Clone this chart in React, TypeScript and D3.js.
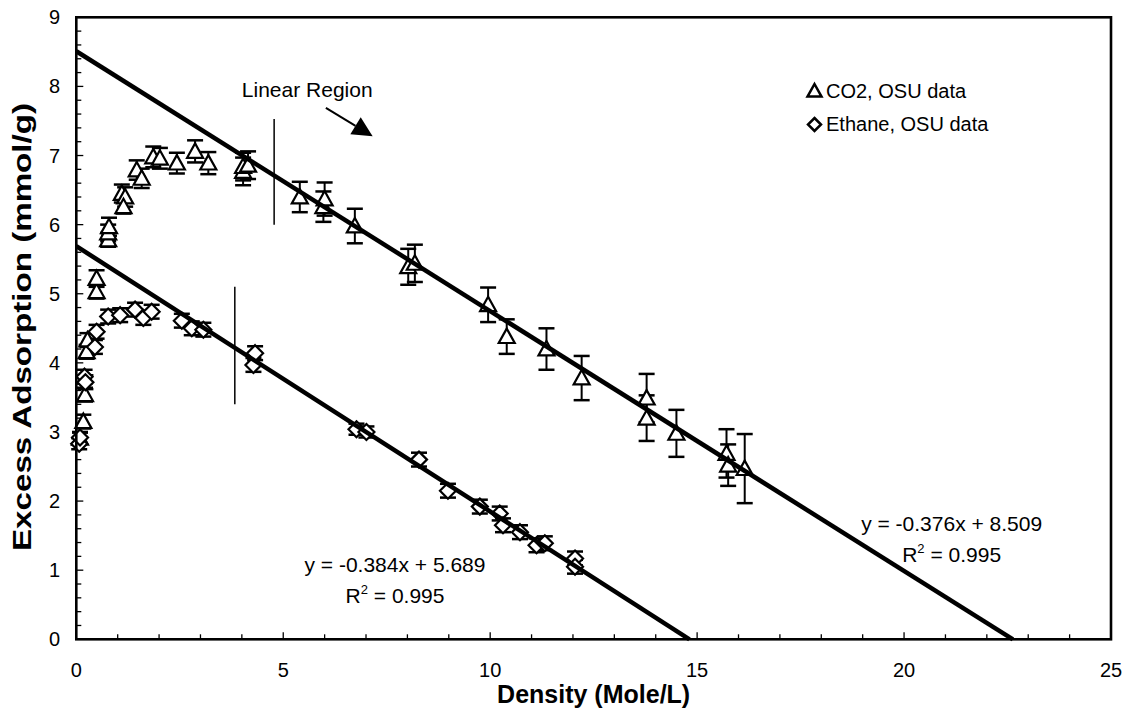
import React from "react";
import * as d3 from "d3";

// ---- data ----
const co2X = [0.09, 0.17, 0.21, 0.25, 0.27, 0.49, 0.49, 0.77, 0.77, 0.79, 1.10, 1.18, 1.14, 1.46, 1.58, 1.86, 2.02, 2.43, 2.87, 3.19, 4.03, 4.03, 4.15, 5.40, 5.97, 6.00, 6.73, 8.02, 8.18, 9.95, 10.40, 11.36, 12.21, 13.78, 13.78, 14.50, 15.71, 15.75, 16.15];
const co2Y = [2.91, 3.15, 3.54, 4.16, 4.33, 5.03, 5.22, 5.78, 5.88, 5.97, 6.45, 6.40, 6.26, 6.79, 6.67, 6.98, 6.96, 6.89, 7.06, 6.89, 6.77, 6.84, 6.86, 6.40, 6.26, 6.37, 5.98, 5.39, 5.44, 4.84, 4.38, 4.20, 3.78, 3.20, 3.49, 2.98, 2.69, 2.52, 2.47];
const co2Err = [0.08, 0.1, 0.1, 0.1, 0.1, 0.1, 0.12, 0.1, 0.12, 0.13, 0.13, 0.14, 0.1, 0.14, 0.14, 0.15, 0.15, 0.15, 0.16, 0.16, 0.2, 0.2, 0.2, 0.22, 0.22, 0.24, 0.25, 0.26, 0.27, 0.25, 0.25, 0.3, 0.32, 0.33, 0.35, 0.34, 0.35, 0.3, 0.5];

const ethX = [0.07, 0.09, 0.2, 0.22, 0.45, 0.49, 0.77, 1.06, 1.42, 1.62, 1.82, 2.55, 2.79, 3.07, 4.28, 4.32, 6.77, 7.01, 8.28, 8.98, 9.75, 10.23, 10.31, 10.72, 11.12, 11.32, 12.05, 12.05];
const ethY = [2.83, 2.92, 3.80, 3.72, 4.23, 4.45, 4.67, 4.69, 4.77, 4.65, 4.74, 4.61, 4.50, 4.48, 3.97, 4.14, 3.04, 3.00, 2.60, 2.15, 1.92, 1.82, 1.65, 1.55, 1.36, 1.39, 1.17, 1.05];
const ethErr = [0.08, 0.08, 0.1, 0.1, 0.1, 0.1, 0.1, 0.1, 0.1, 0.1, 0.1, 0.1, 0.1, 0.1, 0.1, 0.1, 0.08, 0.08, 0.1, 0.1, 0.1, 0.1, 0.1, 0.1, 0.1, 0.1, 0.1, 0.1];

const co2Fit = { slope: -0.376, intercept: 8.509 };
const ethFit = { slope: -0.384, intercept: 5.689 };

const xTicks = [0, 5, 10, 15, 20, 25];
const yTicks = [0, 1, 2, 3, 4, 5, 6, 7, 8, 9];

const legendLabels = ["CO2, OSU data", "Ethane, OSU data"];
const co2EqLines = ["y = -0.376x + 8.509", "0.995"];
const ethEqLines = ["y = -0.384x + 5.689", "0.995"];

// annotation anchors in data units
const co2Divider = { x: 4.78, y0: 6.0, y1: 7.53 };
const ethDivider = { x: 3.83, y0: 3.4, y1: 5.1 };
const linearLabel = { x: 4.0, y: 7.85, text: "Linear Region" };
const arrow = { x0: 6.03, y0: 7.69, x1: 7.16, y1: 7.28 };
const co2EqPos = { x: 21.15, y: 1.57, y2: 1.12 };
const ethEqPos = { x: 7.7, y: 0.98, y2: 0.53 };

const W = 1134, H = 711;
const left = 76.3, right = 1111, top = 17.3, bottom = 639.3;
const FONT = "'Liberation Sans', Arial, Helvetica, sans-serif";

function tri(cx: number, cy: number, s = 8) {
  return `M${cx},${cy - s}L${cx + s},${cy + s * 0.8}L${cx - s},${cy + s * 0.8}Z`;
}
function dia(cx: number, cy: number, s = 8) {
  return `M${cx},${cy - s}L${cx + s},${cy}L${cx},${cy + s}L${cx - s},${cy}Z`;
}

export default function App() {
  const x = d3.scaleLinear().domain([0, 25]).range([left, right]);
  const y = d3.scaleLinear().domain([0, 9]).range([bottom, top]);

  const xMinor = d3.range(0, 26, 1);
  const yMinor = d3.range(0, 9.01, 0.2);

  const fitLine = (f: { slope: number; intercept: number }) => {
    const xEnd = -f.intercept / f.slope;
    return d3.line<number>().x((d) => x(d)).y((d) => y(f.slope * d + f.intercept))([0, xEnd]) || "";
  };

  const errBars = (xs: number[], ys: number[], es: number[], key: string) =>
    xs.map((xv, i) => {
      const cx = x(xv);
      const yt = y(ys[i] + es[i]);
      const yb = y(ys[i] - es[i]);
      return (
        <g key={key + i} stroke="#000" strokeWidth={2}>
          <line x1={cx} x2={cx} y1={yt} y2={yb} />
          <line x1={cx - 8} x2={cx + 8} y1={yt} y2={yt} strokeWidth={2.5} />
          <line x1={cx - 8} x2={cx + 8} y1={yb} y2={yb} strokeWidth={2.5} />
        </g>
      );
    });

  const ang = Math.atan2(y(arrow.y1) - y(arrow.y0), x(arrow.x1) - x(arrow.x0));
  const ax1 = x(arrow.x1), ay1 = y(arrow.y1);
  const headLen = 20, headHalf = 10;
  const bx = ax1 - headLen * Math.cos(ang), by = ay1 - headLen * Math.sin(ang);
  const head = `M${ax1},${ay1}L${bx + headHalf * Math.sin(ang)},${by - headHalf * Math.cos(ang)}L${bx - headHalf * Math.sin(ang)},${by + headHalf * Math.cos(ang)}Z`;

  return (
    <svg width={W} height={H} style={{ position: "absolute", left: 0, top: 0, background: "#fff" }} fontFamily={FONT}>
      <rect width={W} height={H} fill="#fff" />
      {/* minor ticks */}
      <g stroke="#000" strokeWidth={1.3}>
        {xMinor.map((t) => (
          <line key={"xt" + t} x1={x(t)} x2={x(t)} y1={bottom} y2={bottom - (t % 5 === 0 ? 7 : 5)} />
        ))}
        {yMinor.map((t) => (
          <line key={"yt" + t} x1={left} x2={left + (Math.abs(t - Math.round(t)) < 1e-6 ? 7 : 5)} y1={y(t)} y2={y(t)} />
        ))}
      </g>
      {/* tick labels */}
      <g fontSize={20} fill="#000">
        {xTicks.map((t) => (
          <text key={"xl" + t} x={x(t)} y={677} textAnchor="middle">{t}</text>
        ))}
        {yTicks.map((t) => (
          <text key={"yl" + t} x={60} y={y(t)} dy="0.35em" textAnchor="end">{t}</text>
        ))}
      </g>
      {/* axis titles */}
      <text x={(left + right) / 2} y={703} textAnchor="middle" fontWeight="bold" fontSize={25}>Density (Mole/L)</text>
      <text transform={`translate(31,327) rotate(-90)`} textAnchor="middle" fontWeight="bold" fontSize={25} textLength={448} lengthAdjust="spacingAndGlyphs">Excess Adsorption (mmol/g)</text>

      {/* error bars */}
      {errBars(co2X, co2Y, co2Err, "ce")}
      {errBars(ethX, ethY, ethErr, "ee")}
      {/* markers */}
      <g fill="#fff" stroke="#000" strokeWidth={2.2}>
        {co2X.map((xv, i) => <path key={"c" + i} d={tri(x(xv), y(co2Y[i]))} />)}
        {ethX.map((xv, i) => <path key={"e" + i} d={dia(x(xv), y(ethY[i]))} />)}
      </g>

      {/* trend lines */}
      <path d={fitLine(co2Fit)} stroke="#000" strokeWidth={4.5} fill="none" />
      <path d={fitLine(ethFit)} stroke="#000" strokeWidth={4.5} fill="none" />

      {/* dividers */}
      <line x1={x(co2Divider.x)} x2={x(co2Divider.x)} y1={y(co2Divider.y0)} y2={y(co2Divider.y1)} stroke="#000" strokeWidth={1.5} />
      <line x1={x(ethDivider.x)} x2={x(ethDivider.x)} y1={y(ethDivider.y0)} y2={y(ethDivider.y1)} stroke="#000" strokeWidth={1.5} />

      {/* Linear region annotation */}
      <text x={x(linearLabel.x)} y={y(linearLabel.y)} fontSize={21}>{linearLabel.text}</text>
      <line x1={x(arrow.x0)} y1={y(arrow.y0)} x2={bx} y2={by} stroke="#000" strokeWidth={2} />
      <path d={head} fill="#000" />

      {/* equations */}
      <g fontSize={21} textAnchor="middle">
        <text x={x(co2EqPos.x)} y={y(co2EqPos.y)}>{co2EqLines[0]}</text>
        <text x={x(co2EqPos.x)} y={y(co2EqPos.y2)}>R<tspan fontSize={13} dy={-9}>2</tspan><tspan dy={9}> = {co2EqLines[1]}</tspan></text>
        <text x={x(ethEqPos.x)} y={y(ethEqPos.y)}>{ethEqLines[0]}</text>
        <text x={x(ethEqPos.x)} y={y(ethEqPos.y2)}>R<tspan fontSize={13} dy={-9}>2</tspan><tspan dy={9}> = {ethEqLines[1]}</tspan></text>
      </g>

      {/* legend */}
      <path d={tri(814.5, 91, 7)} fill="none" stroke="#000" strokeWidth={2.5} />
      <text x={826} y={98} fontSize={20}>{legendLabels[0]}</text>
      <path d={dia(814.5, 124.5, 6.5)} fill="none" stroke="#000" strokeWidth={2.5} />
      <text x={826} y={131} fontSize={20}>{legendLabels[1]}</text>

      {/* frame */}
      <rect x={left} y={top} width={right - left} height={bottom - top} fill="none" stroke="#000" strokeWidth={2.6} />
    </svg>
  );
}
